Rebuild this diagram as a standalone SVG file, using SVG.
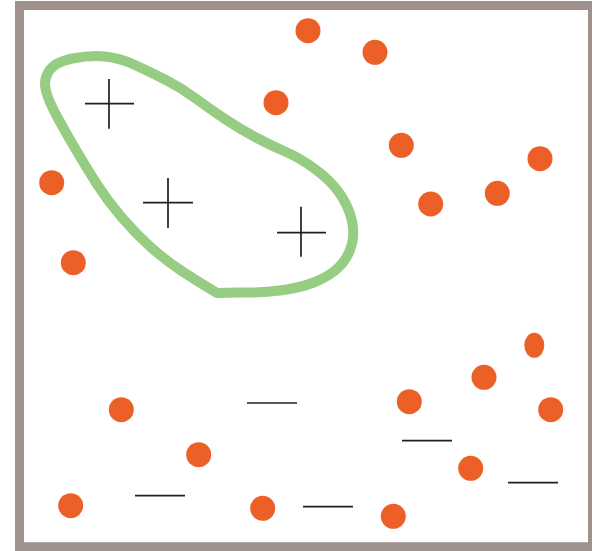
<svg xmlns="http://www.w3.org/2000/svg" width="592" height="551" viewBox="0 0 592 551">
<style>
.dot{fill:#ec5f27}
.mark{stroke:#231f20;stroke-width:1.7;fill:none}
</style>
<rect x="0" y="0" width="592" height="551" fill="#ffffff"/>
<rect x="19.5" y="5.5" width="573" height="541.2" fill="none" stroke="#9f928c" stroke-width="9"/>
<g id="boundary">
<path d="M217,293 L238.5,292.5 Q260,293 280,290.5 Q300,288 315,282 Q330,276 339,267 Q348,258 351.5,245.5 Q355,233 351.5,219 Q348,205 339,192.5 Q330,180 315,169 Q300,158 285,151.5 Q270,145 255,137 Q240,129 225,119 Q210,109 195,98 Q180,87 165,79.5 Q150,72 135,65 Q120,58 105,56.5 Q90,55 72.5,58.5 Q55,62 49,71 Q43,80 46,91 Q49,102 57.5,117.5 Q66,133 76,150 Q86,167 96.5,183.5 Q107,200 121,216.5 Q135,233 150,246.5 Q165,260 182.5,271.5 Q200,283 217,293 Z" fill="none" stroke="#96cd83" stroke-width="10" stroke-linejoin="round"/>
</g>
<g id="plus">
<path class="mark" d="M85,103.7H134M109,79V128.7"/>
<path class="mark" d="M143,202.7H193M168,178V228"/>
<path class="mark" d="M277,232.7H326M301,206.7V256.7"/>
</g>
<g id="minus">
<path class="mark" d="M247,403H297"/>
<path class="mark" d="M135,495.7H185"/>
<path class="mark" d="M402,440.7H452"/>
<path class="mark" d="M508,482.7H558"/>
<path class="mark" d="M303,506.7H353"/>
</g>
<g id="dots">
<circle class="dot" cx="308" cy="30.7" r="12.5"/>
<circle class="dot" cx="375" cy="52.3" r="12.5"/>
<circle class="dot" cx="276" cy="102.7" r="12.5"/>
<circle class="dot" cx="401.3" cy="145.3" r="12.5"/>
<circle class="dot" cx="540" cy="158.7" r="12.5"/>
<circle class="dot" cx="51.7" cy="182.7" r="12.5"/>
<circle class="dot" cx="497.3" cy="193.3" r="12.5"/>
<circle class="dot" cx="430.7" cy="204" r="12.5"/>
<circle class="dot" cx="73.3" cy="262.7" r="12.5"/>
<ellipse class="dot" cx="534.3" cy="345.3" rx="10" ry="12.5"/>
<circle class="dot" cx="484" cy="377.3" r="12.5"/>
<circle class="dot" cx="121.3" cy="409.7" r="12.5"/>
<circle class="dot" cx="409.3" cy="401.7" r="12.5"/>
<circle class="dot" cx="550.7" cy="409.7" r="12.5"/>
<circle class="dot" cx="198.7" cy="454.7" r="12.5"/>
<circle class="dot" cx="470.7" cy="468.3" r="12.5"/>
<circle class="dot" cx="70.7" cy="505.7" r="12.5"/>
<circle class="dot" cx="262.7" cy="508.3" r="12.5"/>
<circle class="dot" cx="393.3" cy="516.3" r="12.5"/>
</g>
</svg>
